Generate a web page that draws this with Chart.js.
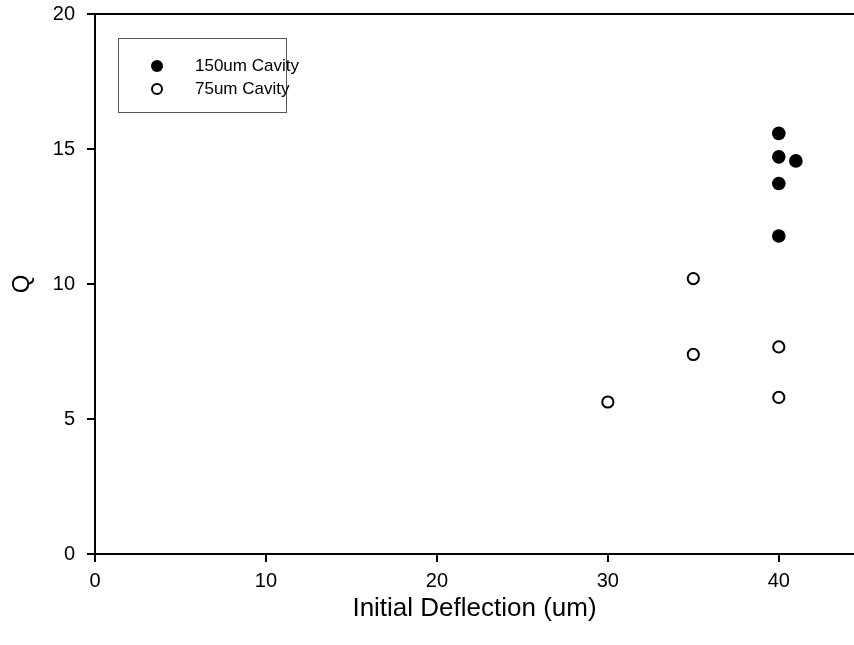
<!DOCTYPE html>
<html>
<head>
<meta charset="utf-8">
<script src="https://cdn.jsdelivr.net/npm/chart.js@4/dist/chart.umd.min.js"></script>
<style>
html,body{margin:0;padding:0;background:#fff;overflow:hidden;}
#wrap{width:854px;height:645px;position:relative;}
canvas{display:block;}
</style>
</head>
<body>
<div id="wrap"><canvas id="c" width="854" height="645"></canvas></div>
<script>
// Data
const seriesNames = ["150um Cavity", "75um Cavity"];
const cavity150X = [40, 40, 41, 40, 40];
const cavity150Q = [15.58, 14.71, 14.56, 13.72, 11.78];
const cavity75X = [35, 35, 30, 40, 40];
const cavity75Q = [10.20, 7.39, 5.63, 7.67, 5.80];
const xTickValues = [0, 10, 20, 30, 40];
const yTickValues = [0, 5, 10, 15, 20];
const xTitle = "Initial Deflection (um)";
const yTitle = "Q";

const toPts = (xs, ys) => xs.map((x, i) => ({x: x, y: ys[i]}));

const FONT = "'Liberation Sans', Arial, sans-serif";

const frameAndLegend = {
  id: 'frameAndLegend',
  afterDraw(chart) {
    const ctx = chart.ctx;
    const a = chart.chartArea;
    ctx.save();
    // top frame line
    ctx.strokeStyle = '#000';
    ctx.lineWidth = 2;
    ctx.beginPath();
    ctx.moveTo(a.left - 1, a.top);
    ctx.lineTo(a.right, a.top);
    ctx.stroke();
    // legend box
    const bx = 118.5, by = 38.5, bw = 168, bh = 74;
    ctx.lineWidth = 1;
    ctx.strokeStyle = '#555';
    ctx.strokeRect(bx, by, bw, bh);
    ctx.font = "17px " + FONT;
    ctx.fillStyle = '#000';
    ctx.textBaseline = 'middle';
    ctx.textAlign = 'left';
    const rows = [66, 89];
    chart.data.datasets.forEach((ds, i) => {
      const cy = rows[i];
      ctx.beginPath();
      ctx.arc(157, cy, i === 0 ? 6 : 5, 0, Math.PI * 2);
      if (i === 0) { ctx.fillStyle = '#000'; ctx.fill(); }
      else { ctx.lineWidth = 2; ctx.strokeStyle = '#000'; ctx.stroke(); }
      ctx.fillStyle = '#000';
      ctx.fillText(ds.label, 195, cy);
    });
    ctx.restore();
  }
};

new Chart(document.getElementById('c'), {
  type: 'scatter',
  data: {
    datasets: [
      {
        label: seriesNames[0],
        data: toPts(cavity150X, cavity150Q),
        pointRadius: 6.8,
        pointBackgroundColor: '#000',
        pointBorderColor: '#000',
        pointBorderWidth: 0
      },
      {
        label: seriesNames[1],
        data: toPts(cavity75X, cavity75Q),
        pointRadius: 5.6,
        pointBackgroundColor: '#fff',
        pointBorderColor: '#000',
        pointBorderWidth: 2
      }
    ]
  },
  options: {
    responsive: false,
    animation: false,
    layout: { autoPadding: false, padding: { top: 14, right: 0, bottom: 0, left: 0 } },
    plugins: { legend: { display: false }, tooltip: { enabled: false } },
    scales: {
      x: {
        type: 'linear',
        min: 0,
        max: 44.4,
        afterFit(s) { s.height = 91; s.paddingRight = 0; s.paddingLeft = 0; },
        afterBuildTicks(s) { s.ticks = xTickValues.map(v => ({value: v})); },
        grid: { drawOnChartArea: false, drawTicks: true, tickLength: 8, color: '#000', lineWidth: 2 },
        border: { display: true, color: '#000', width: 2 },
        ticks: { color: '#000', font: { family: FONT, size: 20 }, padding: 7, maxRotation: 0 },
        title: { display: true, text: xTitle, color: '#000', font: { family: FONT, size: 26 }, padding: { top: 6, bottom: 21 } }
      },
      y: {
        type: 'linear',
        min: 0,
        max: 20,
        afterFit(s) { s.width = 95; s.paddingTop = 0; s.paddingBottom = 0; },
        afterBuildTicks(s) { s.ticks = yTickValues.map(v => ({value: v})); },
        grid: { drawOnChartArea: false, drawTicks: true, tickLength: 8, color: '#000', lineWidth: 2 },
        border: { display: true, color: '#000', width: 2 },
        ticks: { color: '#000', font: { family: FONT, size: 20 }, padding: 12 },
        title: { display: true, text: yTitle, color: '#000', font: { family: FONT, size: 24 }, padding: { bottom: 0, top: 8 } }
      }
    }
  },
  plugins: [frameAndLegend]
});
</script>
</body>
</html>
